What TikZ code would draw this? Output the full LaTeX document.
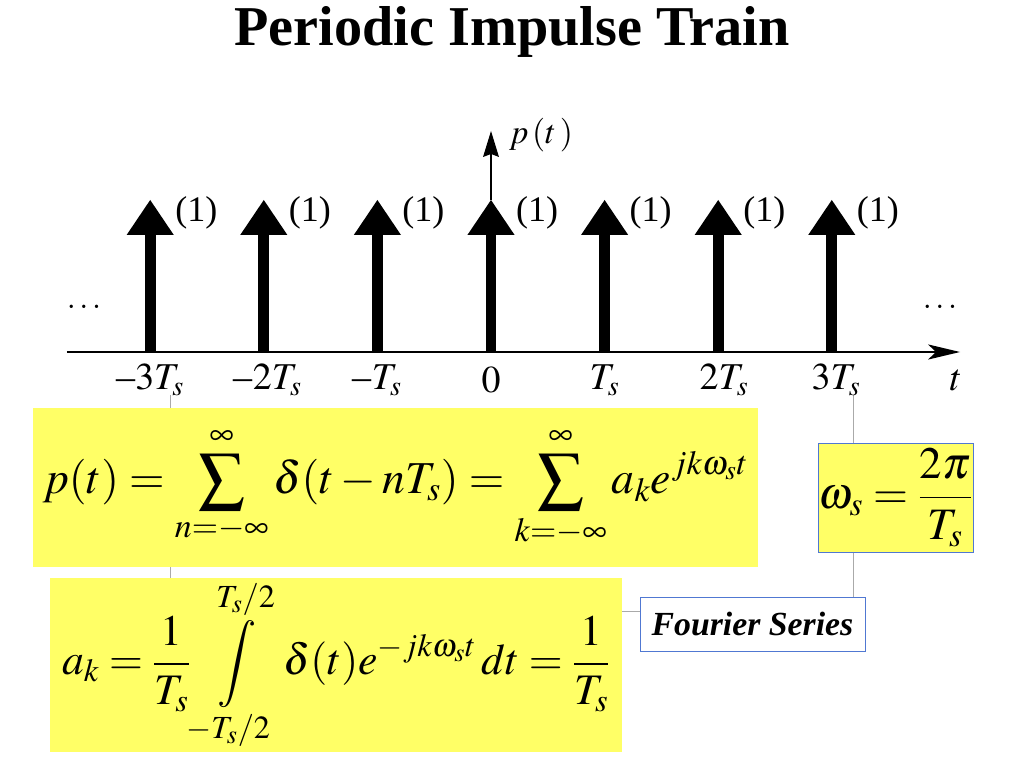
\documentclass[tikz,border=0pt]{standalone}
\usepackage{mathptmx}
\usepackage[no-math]{fontspec}
\setmainfont{Liberation Serif}
\usetikzlibrary{positioning,backgrounds}
\definecolor{boxyellow}{RGB}{255,255,102}
\definecolor{boxblue}{RGB}{80,120,210}
\definecolor{leadgray}{RGB}{170,170,170}
\newcommand{\nminus}{\mbox{--}}

\begin{document}
\begin{tikzpicture}
		\tikzstyle{every node}+=[inner sep=0pt]
		\tikzstyle{impstem}=[line width=7.8pt]
		\tikzstyle{weight}=[anchor=west, font=\fontsize{25.6}{30}\selectfont]
		\tikzstyle{ticklab}=[font=\fontsize{27}{32}\selectfont]
		\tikzstyle{eqbox}=[fill=boxyellow, font=\fontsize{31}{36}\selectfont]
		\tikzstyle{leader}=[leadgray, line width=0.7pt]
		\useasboundingbox (0,0) rectangle (25.6,-19.2);
		\node (title) at (12.8,-0.8) {\fontsize{40}{48}\selectfont\bfseries Periodic Impulse Train};
		% time axis and p(t) axis
		\draw [black, line width=2pt] (1.67,-8.8) -- (23.4,-8.8);
		\fill [black] (24.0,-8.8) -- (23.2,-8.61) -- (23.4,-8.8) -- (23.2,-8.99);
		\draw [black, line width=1.3pt] (12.275,-5.0) -- (12.275,-3.8);
		\fill [black] (12.275,-3.275) -- (12.075,-3.925) -- (12.275,-3.85) -- (12.475,-3.925);
		\node (pt) at (13.525,-3.375) {\fontsize{24}{28}\selectfont $p\,(t\,)$};
		\node (tlab) [ticklab] at (23.9,-9.5) {$t$};
		\node (ldots) at (2.1,-7.675) {\fontsize{23}{26}\selectfont $\dots$};
		\node (rdots) at (23.5,-7.675) {\fontsize{23}{26}\selectfont $\dots$};
		% impulses
		\draw [impstem] (3.755,-8.8) -- (3.755,-5.85);
		\fill [black] (3.165,-5.875) -- (3.755,-5.0) -- (4.345,-5.875);
		\node (w1) [weight] at (4.375,-5.33) {(1)};
		\node (m3) [ticklab] at (3.755,-9.5) {$\nminus 3T_s$};
		\draw [impstem] (6.595,-8.8) -- (6.595,-5.85);
		\fill [black] (6.005,-5.875) -- (6.595,-5.0) -- (7.185,-5.875);
		\node (w2) [weight] at (7.215,-5.33) {(1)};
		\node (m2) [ticklab] at (6.695,-9.5) {$\nminus 2T_s$};
		\draw [impstem] (9.435,-8.8) -- (9.435,-5.85);
		\fill [black] (8.845,-5.875) -- (9.435,-5.0) -- (10.025,-5.875);
		\node (w3) [weight] at (10.055,-5.33) {(1)};
		\node (m1) [ticklab] at (9.435,-9.5) {$\nminus T_s$};
		\draw [impstem] (12.275,-8.8) -- (12.275,-5.85);
		\fill [black] (11.685,-5.875) -- (12.275,-5.0) -- (12.865,-5.875);
		\node (w4) [weight] at (12.895,-5.33) {(1)};
		\node (z0) [ticklab] at (12.275,-9.5) {$0$};
		\draw [impstem] (15.115,-8.8) -- (15.115,-5.85);
		\fill [black] (14.525,-5.875) -- (15.115,-5.0) -- (15.705,-5.875);
		\node (w5) [weight] at (15.735,-5.33) {(1)};
		\node (p1) [ticklab] at (15.115,-9.5) {$T_s$};
		\draw [impstem] (17.955,-8.8) -- (17.955,-5.85);
		\fill [black] (17.365,-5.875) -- (17.955,-5.0) -- (18.545,-5.875);
		\node (w6) [weight] at (18.575,-5.33) {(1)};
		\node (p2) [ticklab] at (18.1,-9.5) {$2T_s$};
		\draw [impstem] (20.795,-8.8) -- (20.795,-5.85);
		\fill [black] (20.205,-5.875) -- (20.795,-5.0) -- (21.385,-5.875);
		\node (w7) [weight] at (21.415,-5.33) {(1)};
		\node (p3) [ticklab] at (20.9,-9.5) {$3T_s$};
		% formula boxes
		\node (train) [eqbox, font=\fontsize{32.5}{38}\selectfont, minimum width=18.125cm, minimum height=3.975cm] at (9.8875,-12.1875)
			{$\displaystyle p(t) = \sum_{n=-\infty}^{\infty}\delta(t-nT_s) = \sum_{k=-\infty}^{\infty}a_k e^{jk\omega_s t}$};
		\node (ak) [eqbox, minimum width=14.3cm, minimum height=4.35cm] at (8.4,-16.625)
			{$\displaystyle a_k = \frac{1}{T_s}\int\limits_{-T_s/2}^{T_s/2}\delta(t)e^{-jk\omega_s t}\,dt = \frac{1}{T_s}$};
		\node (ws) [eqbox, font=\fontsize{32}{36}\selectfont, draw=boxblue, line width=0.7pt, minimum width=3.875cm, minimum height=2.725cm] at (22.3875,-12.4375)
			{$\displaystyle \omega_s = \frac{2\pi}{T_s}$};
		\node (fs) [fill=white, draw=boxblue, line width=0.7pt, minimum width=5.625cm, minimum height=1.35cm] at (18.8125,-15.6)
			{\fontsize{24}{28}\selectfont\bfseries\itshape Fourier Series};
		% leader lines
		\coordinate (lead1) at (4.25,-9.875);
		\coordinate (lead2) at (21.325,-9.875);
		\coordinate (lead3) at (15.55,-15.275);
		\begin{pgfonlayer}{background}
		\draw [leader] (lead1) -- (lead1 |- ak.north);
		\draw [leader] (lead2) |- (lead3);
		\end{pgfonlayer}
\end{tikzpicture}
\end{document}
